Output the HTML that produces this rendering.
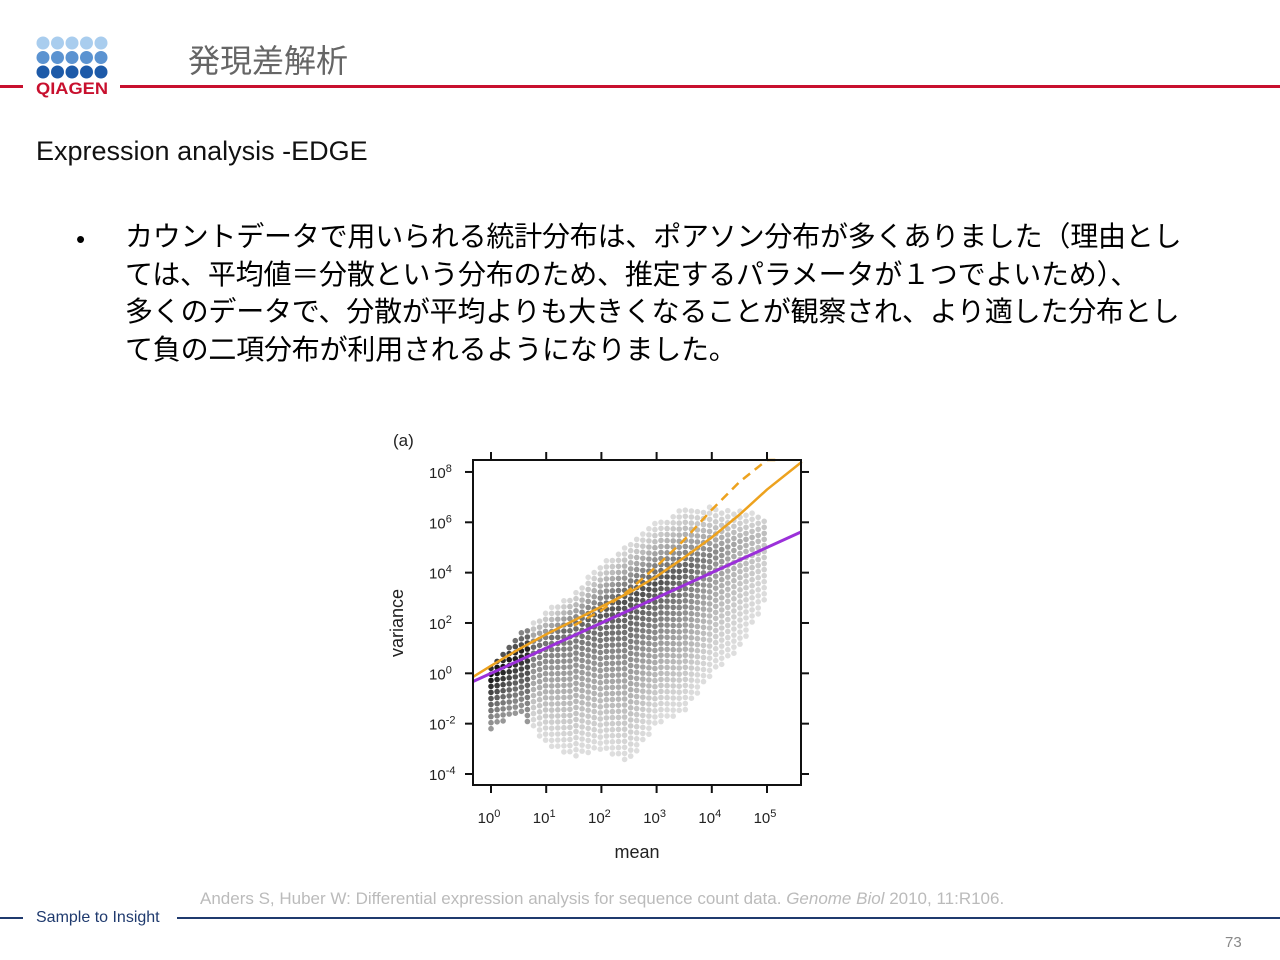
<!DOCTYPE html>
<html><head><meta charset="utf-8">
<style>
body{margin:0;width:1280px;height:960px;background:#fff;position:relative;overflow:hidden;font-family:"Liberation Sans","Noto Sans CJK JP",sans-serif}
.abs{position:absolute}
</style></head><body>
<div class="abs" style="left:0;top:30px;width:130px;height:70px">
<svg width="130" height="70">
<g id="dots"></g>
<text x="72" y="64" text-anchor="middle" font-family="Liberation Sans" font-weight="bold" font-size="17" fill="#c8102e" textLength="72" lengthAdjust="spacingAndGlyphs">QIAGEN</text>
</svg></div>
<div class="abs" style="left:188px;top:36px;font-size:32px;color:#666">発現差解析</div>
<div class="abs" style="left:0;top:85px;width:23px;height:3px;background:#c8102e"></div>
<div class="abs" style="left:120px;top:85px;width:1160px;height:3px;background:#c8102e"></div>
<div class="abs" style="left:36px;top:136px;font-size:27px;color:#111">Expression analysis -EDGE</div>
<div class="abs" style="left:76px;top:224px;font-size:26px">•</div>
<div class="abs" style="left:125px;top:218px;width:1100px;font-size:28px;line-height:37.5px;color:#000;letter-spacing:-0.2px;white-space:nowrap">カウントデータで用いられる統計分布は、ポアソン分布が多くありました（理由とし<br>ては、平均値＝分散という分布のため、推定するパラメータが１つでよいため）、<br>多くのデータで、分散が平均よりも大きくなることが観察され、より適した分布とし<br>て負の二項分布が利用されるようになりました。</div>
<svg class="abs" style="left:0;top:0" width="1280" height="960">
<text x="393" y="446" font-size="17" fill="#222">(a)</text>
<g id="hex"></g>
<g id="lines"></g>
<rect x="473" y="460" width="328" height="325" fill="none" stroke="#111" stroke-width="2"/>
<g id="axes" font-size="15" fill="#222"></g>
<text x="637" y="858" text-anchor="middle" font-size="18" fill="#222">mean</text>
<text transform="translate(403,623) rotate(-90)" text-anchor="middle" font-size="18" fill="#222">variance</text>
</svg>
<div class="abs" style="left:200px;top:889px;font-size:17px;color:#bbb">Anders S, Huber W: Differential expression analysis for sequence count data. <i>Genome Biol</i> 2010, 11:R106.</div>
<div class="abs" style="left:0;top:917px;width:23px;height:2px;background:#1f3a6e"></div>
<div class="abs" style="left:177px;top:917px;width:1103px;height:2px;background:#1f3a6e"></div>
<div class="abs" style="left:36px;top:909px;font-size:16px;color:#1f3a6e">Sample to Insight</div>
<div class="abs" style="left:1225px;top:934px;font-size:15px;color:#888">73</div>
<script>
// chart data (log10 units)
const xTicks=[0,1,2,3,4,5];
const yTicks=[8,6,4,2,0,-2,-4];
const poissonLine=[[-0.33,-0.33],[5.62,5.62]];
const fitMeans=[-0.33,0,0.5,1,1.5,2,2.5,3,3.5,4,4.5,5,5.63];
const fitVars=[-0.15,0.3,0.95,1.55,2.1,2.65,3.2,3.85,4.6,5.4,6.3,7.3,8.4];
const dashMeans=[1.5,2,2.5,3,3.5,4,4.5,5,5.2];
const dashVars=[1.9,2.5,3.3,4.25,5.3,6.5,7.6,8.5,8.9];
const cloudMeans=[0,0.5,1,1.5,2,2.5,3,3.5,4,4.5,5];
const cloudLow=[-2.2,-1.5,-2.8,-3.3,-3.0,-3.5,-2.0,-1.5,0,1,3];
const cloudHigh=[0.3,1.6,2.5,3.2,4.4,5.2,6.0,6.6,6.6,6.5,6.2];
const cloudCenter=[0,0.8,1.3,1.9,2.4,3.0,3.6,4.2,4.7,5.2,5.6];
const cloudPeak=[1.0,0.9,0.8,0.85,0.95,1.0,1.0,0.9,0.7,0.45,0.3];
const sx=v=>491+v*55.2, sy=v=>774-(v+4)*25.17;
const NS='http://www.w3.org/2000/svg';
function mk(t,a,p){const e=document.createElementNS(NS,t);for(const k in a)e.setAttribute(k,a[k]);p.appendChild(e);return e;}
// logo
const dg=document.getElementById('dots');const dc=['#a9cdee','#5b93d1','#1d5aa8'];
for(let r=0;r<3;r++)for(let c=0;c<5;c++){const d=mk('circle',{cx:43+c*14.5,cy:13+r*14.5,r:6.5,fill:dc[r]},dg);

}
function interp(xs,ys,x){if(x<=xs[0])return ys[0];for(let i=1;i<xs.length;i++)if(x<=xs[i]){const t=(x-xs[i-1])/(xs[i]-xs[i-1]);return ys[i-1]+t*(ys[i]-ys[i-1]);}return ys[ys.length-1];}
// hex cloud
const hg=document.getElementById('hex');
for(let x=0;x<=5.05;x+=0.11){const lo=interp(cloudMeans,cloudLow,x),hi=interp(cloudMeans,cloudHigh,x),ce=interp(cloudMeans,cloudCenter,x),pk=interp(cloudMeans,cloudPeak,x);
 const col=Math.round(x/0.11);const off=(col%2)*0.12;
 for(let y=lo+off;y<=hi;y+=0.24){const half=Math.max(1,(y>ce?hi-ce:ce-lo));const dist=Math.abs(y-ce)/half;
  const dens=Math.max(0,1-dist)*pk;let g=Math.round(222-Math.pow(dens,1.3)*145-(x<0.7?70:0));
  const h=mk('circle',{cx:sx(x).toFixed(1),cy:sy(y).toFixed(1),r:2.8,fill:`rgb(${g},${g},${g})`},hg);
  
  }}
// lines
const lg=document.getElementById('lines');
const p=mk('line',{x1:sx(poissonLine[0][0]),y1:sy(poissonLine[0][1]),x2:sx(poissonLine[1][0]),y2:sy(poissonLine[1][1]),stroke:'#9b30d9','stroke-width':3},lg);


const f=mk('polyline',{points:fitMeans.map((m,i)=>sx(m)+','+sy(fitVars[i])).join(' '),fill:'none',stroke:'#eda21e','stroke-width':2.5,'stroke-linejoin':'round'},lg);


const dsh=mk('polyline',{points:dashMeans.map((m,i)=>sx(m)+','+Math.max(460,sy(dashVars[i]))).join(' '),fill:'none',stroke:'#eda21e','stroke-width':2.5,'stroke-dasharray':'9,6'},lg);


// axes
const ag=document.getElementById('axes');
xTicks.forEach(v=>{const X=sx(v);
 mk('line',{x1:X,y1:785,x2:X,y2:793,stroke:'#111','stroke-width':2},ag);mk('line',{x1:X,y1:452,x2:X,y2:460,stroke:'#111','stroke-width':2},ag);
 const t=mk('text',{x:X-2,y:823,'text-anchor':'middle'},ag);t.innerHTML='10<tspan dy="-6" font-size="11">'+v+'</tspan>';
 
 });
yTicks.forEach(v=>{const Y=sy(v);
 mk('line',{x1:465,y1:Y,x2:473,y2:Y,stroke:'#111','stroke-width':2},ag);mk('line',{x1:801,y1:Y,x2:809,y2:Y,stroke:'#111','stroke-width':2},ag);
 const t=mk('text',{x:429,y:Y+6},ag);t.innerHTML='10<tspan dy="-6" font-size="11">'+v+'</tspan>';
 
 });
</script>
</body></html>
